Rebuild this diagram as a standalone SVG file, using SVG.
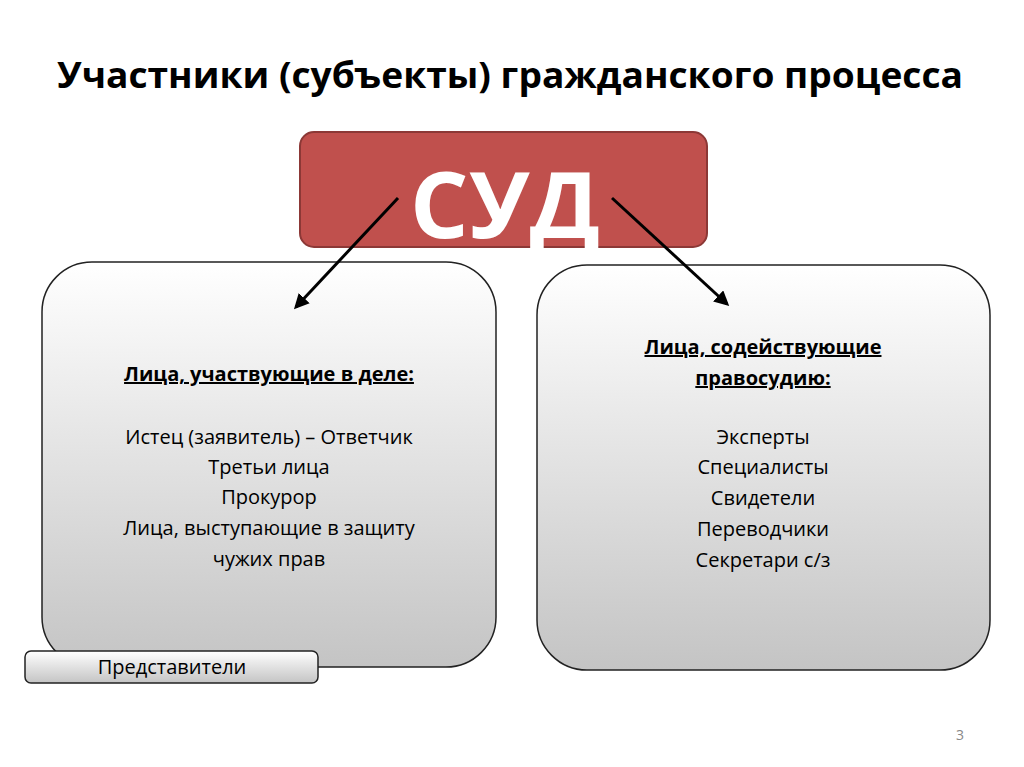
<svg xmlns="http://www.w3.org/2000/svg" width="1024" height="767" viewBox="0 0 1024 767">
<defs>
<linearGradient id="g" x1="0" y1="0" x2="0" y2="1"><stop offset="0" stop-color="#ffffff"/><stop offset="1" stop-color="#c4c4c4"/></linearGradient>
<marker id="a" viewBox="0 0 10 10" refX="8" refY="5" markerWidth="5" markerHeight="5" orient="auto"><path d="M0,0 L10,5 L0,10 z" fill="#000"/></marker>
<style>
.t{font-family:"Open Sans","Liberation Sans",sans-serif;fill:#000;text-anchor:middle;font-size:20px}
.b{font-weight:bold;text-decoration:underline}
.box{fill:url(#g);stroke:#222;stroke-width:1.5}
</style>
</defs>
<rect width="1024" height="767" fill="#fff"/>
<text x="510" y="88" class="t" style="font-size:35px;font-weight:bold" textLength="906" lengthAdjust="spacingAndGlyphs">Участники (субъекты) гражданского процесса</text>
<g id="sud"><rect x="300" y="132" width="407" height="115" rx="14" fill="#c0504d" stroke="#8c3836" stroke-width="2"/>
<text x="505" y="238" class="t" style="font-size:92px;font-weight:bold;fill:#fff">СУД</text></g>
<g id="left"><rect x="42" y="262" width="454" height="405" rx="50" class="box"/>
<text x="269" y="381" class="t b">Лица, участвующие в деле:</text>
<text x="269" y="444" class="t">Истец (заявитель) – Ответчик</text>
<text x="269" y="474" class="t">Третьи лица</text>
<text x="269" y="504" class="t">Прокурор</text>
<text x="269" y="535" class="t">Лица, выступающие в защиту</text>
<text x="269" y="566" class="t">чужих прав</text></g>
<g id="right"><rect x="537" y="265" width="453" height="405" rx="50" class="box"/>
<text x="763" y="354" class="t b">Лица, содействующие</text>
<text x="763" y="385" class="t b">правосудию:</text>
<text x="763" y="444" class="t">Эксперты</text>
<text x="763" y="474" class="t">Специалисты</text>
<text x="763" y="505" class="t">Свидетели</text>
<text x="763" y="536" class="t">Переводчики</text>
<text x="763" y="567" class="t">Секретари с/з</text></g>
<g id="rep"><rect x="25" y="651" width="293" height="32" rx="6" class="box"/>
<text x="172" y="674" class="t">Представители</text></g>
<g id="connectors" stroke="#000" stroke-width="3" marker-end="url(#a)">
<line x1="398" y1="198" x2="296" y2="307"/>
<line x1="612" y1="198" x2="727" y2="304"/>
</g>
<text x="960" y="740" class="t" style="font-size:14px;fill:#888">3</text>
</svg>
